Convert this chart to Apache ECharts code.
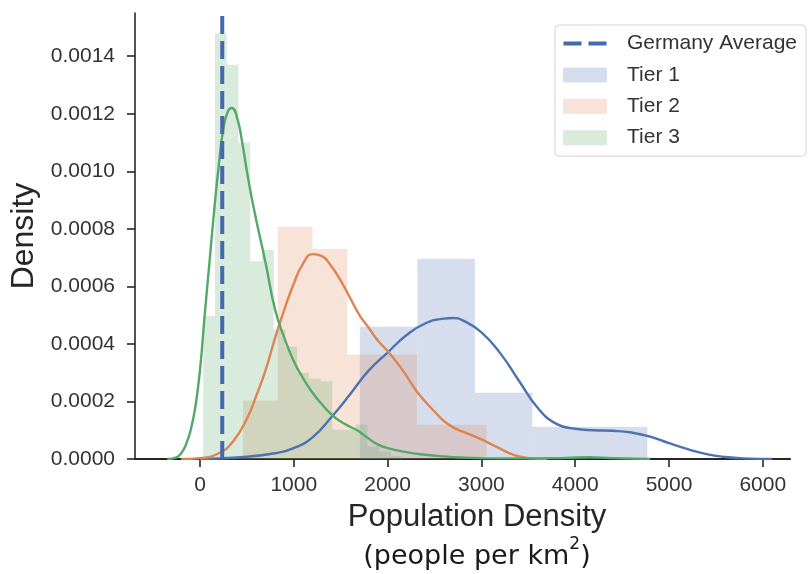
<!DOCTYPE html>
<html>
<head>
<meta charset="utf-8">
<script src="https://cdn.jsdelivr.net/npm/echarts@6/dist/echarts.min.js"></script>
<style>
  html, body { margin: 0; padding: 0; background: #ffffff; }
  #chart { width: 811px; height: 574px; }
</style>
</head>
<body>
<div id="chart"></div>
<script>
// ---------------- DATA ----------------
const germanyAverage = 237;

const xTicks = [0, 1000, 2000, 3000, 4000, 5000, 6000];
const yTicks = [0, 0.0002, 0.0004, 0.0006, 0.0008, 0.0010, 0.0012, 0.0014];
const xRange = [-693, 6290];
const yRange = [0, 0.00155];

// Histogram bin edges and densities
const tier1Edges = [1704, 2317, 2930, 3543, 4156, 4769];
const tier1Density = [0.00046, 0.000696, 0.00023, 0.000112, 0.000112];

const tier2Edges = [458, 829, 1200, 1571, 1942, 2313, 2684, 3055];
const tier2Density = [0.000203, 0.000807, 0.00073, 0.000363, 0.000363, 0.000119, 0.000119];

const tier3Edges = [35, 160, 285, 410, 535, 660, 785, 910, 1035, 1160, 1285, 1410, 1535, 1660, 1785, 1910, 2035, 2160];
const tier3Density = [0.000498, 0.00148, 0.00137, 0.0011, 0.000687, 0.000726, 0.00045, 0.00039, 0.0003, 0.00028, 0.00027, 0.000102, 0.000102, 0.00012, 0.000044, 0.000026, 0.00001];

// KDE curves
const tier1KdeX = [0, 400, 800, 1000, 1200, 1400, 1600, 1800, 2000, 2200, 2400, 2600, 2700, 2800, 3000, 3200, 3400, 3600, 3800, 4000, 4200, 4400, 4600, 4800, 5000, 5200, 5400, 5600, 5800, 6100];
const tier1KdeY = [0, 0.000005, 0.00002, 0.000038, 0.000075, 0.000145, 0.000225, 0.000308, 0.00037, 0.00043, 0.000471, 0.000488, 0.00049, 0.000482, 0.00044, 0.000368, 0.000272, 0.000178, 0.000122, 0.000105, 0.0001, 0.000098, 0.000092, 0.000078, 0.000055, 0.000034, 0.000017, 0.000007, 0.000002, 0];

const tier2KdeX = [-200, 0, 200, 350, 500, 600, 700, 800, 900, 1000, 1100, 1200, 1300, 1400, 1500, 1600, 1700, 1800, 1900, 2000, 2100, 2200, 2300, 2400, 2500, 2600, 2700, 2800, 2900, 3000, 3100, 3200, 3300, 3400, 3500, 3700];
const tier2KdeY = [0, 0.000003, 0.00002, 0.00006, 0.00014, 0.00022, 0.00031, 0.00042, 0.00052, 0.00061, 0.00068, 0.000712, 0.000705, 0.00067, 0.00062, 0.00056, 0.0005, 0.000455, 0.00041, 0.000375, 0.000335, 0.00029, 0.00024, 0.0002, 0.000165, 0.000132, 0.00011, 0.000095, 0.000082, 0.000068, 0.000052, 0.000036, 0.00002, 0.000009, 0.000003, 0];

const tier3KdeX = [-350, -250, -200, -150, -100, -50, 0, 50, 100, 150, 200, 250, 300, 340, 400, 450, 500, 550, 600, 700, 800, 900, 1000, 1100, 1200, 1300, 1400, 1500, 1600, 1700, 1800, 1900, 2000, 2200, 2400, 2600, 2800, 3000, 3500, 3900, 4150, 4400, 4800];
const tier3KdeY = [0, 0.000006, 0.00002, 0.00005, 0.0001, 0.00018, 0.00031, 0.0005, 0.00068, 0.00086, 0.00102, 0.00115, 0.00121, 0.00122, 0.00118, 0.0011, 0.001, 0.00091, 0.00083, 0.00068, 0.00052, 0.00042, 0.00034, 0.00028, 0.00023, 0.00019, 0.000155, 0.00013, 0.000112, 0.000095, 0.00007, 0.00005, 0.000038, 0.000024, 0.000015, 0.000009, 0.000005, 0.000003, 0.000002, 0.000004, 0.000006, 0.000003, 0];

const seriesNames = ['Tier 1', 'Tier 2', 'Tier 3'];
const avgName = 'Germany Average';

// ---------------- BUILD ----------------
function bins(edges, dens) {
  return dens.map((d, i) => [edges[i], edges[i + 1], d]);
}
function pairs(xs, ys) {
  return xs.map((x, i) => [x, ys[i]]);
}

const lineColors = ['#4c72b0', '#dd8452', '#55a868'];
const fillColors = ['rgba(76,114,176,0.23)', 'rgba(221,132,82,0.23)', 'rgba(85,168,104,0.23)'];
const avgColor = '#4469ad';
const histData = [bins(tier1Edges, tier1Density), bins(tier2Edges, tier2Density), bins(tier3Edges, tier3Density)];
const kdeData = [pairs(tier1KdeX, tier1KdeY), pairs(tier2KdeX, tier2KdeY), pairs(tier3KdeX, tier3KdeY)];

const FONT = "'Liberation Sans', Arial, sans-serif";
// legend icon: two dashes in a 43x15 box
const dashIcon = 'path://M0,0H0.05V0.05H0Z M43,15H42.95V14.95H43Z M0,5.5H18V9.5H0Z M25,5.5H43V9.5H25Z';

const histSeries = seriesNames.map((name, k) => ({
  name: name,
  type: 'custom',
  z: 1,
  itemStyle: { color: fillColors[k] },
  encode: { x: [0, 1], y: 2 },
  data: histData[k],
  renderItem: function (params, api) {
    const p0 = api.coord([api.value(0), api.value(2)]);
    const p1 = api.coord([api.value(1), 0]);
    return {
      type: 'rect',
      shape: { x: p0[0], y: p0[1], width: p1[0] - p0[0], height: p1[1] - p0[1] },
      style: { fill: fillColors[k] }
    };
  }
}));

const kdeSeries = seriesNames.map((name, k) => ({
  name: name + ' KDE',
  type: 'line',
  z: 3,
  data: kdeData[k],
  symbol: 'none',
  smooth: 0.5,
  lineStyle: { color: lineColors[k], width: 2.4 },
  itemStyle: { color: lineColors[k] },
  silent: true
}));

const avgSeries = {
  name: avgName,
  type: 'line',
  z: 5,
  symbol: 'none',
  data: [[germanyAverage, yRange[0]], [germanyAverage, yRange[1]]],
  lineStyle: { color: avgColor, width: 4, type: [18, 7] },
  itemStyle: { color: avgColor }
};

const chart = echarts.init(document.getElementById('chart'), null, { renderer: 'canvas' });
chart.setOption({
  animation: false,
  backgroundColor: '#ffffff',
  grid: { left: 135, right: 21, top: 13, bottom: 115, containLabel: false, outerBoundsMode: 'none' },
  legend: {
    orient: 'vertical',
    left: 555,
    top: 25,
    padding: [8, 9, 8, 8],
    itemGap: 10.4,
    itemWidth: 44,
    itemHeight: 15,
    backgroundColor: 'rgba(255,255,255,0.85)',
    borderColor: '#d4d4d4',
    borderWidth: 1,
    borderRadius: 4,
    textStyle: { fontFamily: FONT, fontSize: 21, color: '#333333', padding: [0, 0, 0, 15] },
    data: [
      { name: avgName, icon: dashIcon, itemStyle: { color: avgColor, borderWidth: 0 } },
      { name: seriesNames[0], icon: 'rect' },
      { name: seriesNames[1], icon: 'rect' },
      { name: seriesNames[2], icon: 'rect' }
    ]
  },
  xAxis: {
    type: 'value',
    min: xRange[0],
    max: xRange[1],
    splitLine: { show: false },
    axisLine: { show: true, onZero: false, lineStyle: { color: '#262626', width: 2.2 } },
    axisTick: { show: true, length: 8, customValues: xTicks, lineStyle: { color: '#262626', width: 1.6 } },
    axisLabel: { customValues: xTicks, margin: 16, fontFamily: FONT, fontSize: 21, color: '#333333', formatter: v => String(v) },
    name: '{t|Population Density}\n{s|(people per km}{sup|2}{s|)}',
    nameLocation: 'middle',
    nameGap: 39.5,
    nameTextStyle: {
      padding: [0, 0, 0, 29],
      rich: {
        t: { fontFamily: FONT, fontSize: 31, lineHeight: 38, color: '#262626' },
        s: { fontFamily: "'DejaVu Sans', sans-serif", fontSize: 27, lineHeight: 40, color: '#1a1a1a' },
        sup: { fontFamily: "'DejaVu Sans', sans-serif", fontSize: 17, lineHeight: 26, verticalAlign: 'top', color: '#1a1a1a' }
      }
    }
  },
  yAxis: {
    type: 'value',
    min: yRange[0],
    max: yRange[1],
    splitLine: { show: false },
    axisLine: { show: true, onZero: false, lineStyle: { color: '#262626', width: 1.6 } },
    axisTick: { show: true, length: 8, customValues: yTicks, lineStyle: { color: '#262626', width: 1.6 } },
    axisLabel: {
      customValues: yTicks, margin: 20, fontFamily: FONT, fontSize: 21, color: '#333333',
      formatter: v => v.toFixed(4)
    },
    name: 'Density',
    nameLocation: 'middle',
    nameGap: 93,
    nameTextStyle: { fontFamily: FONT, fontSize: 32, color: '#262626' }
  },
  series: [...histSeries, ...kdeSeries, avgSeries]
});
</script>
</body>
</html>
